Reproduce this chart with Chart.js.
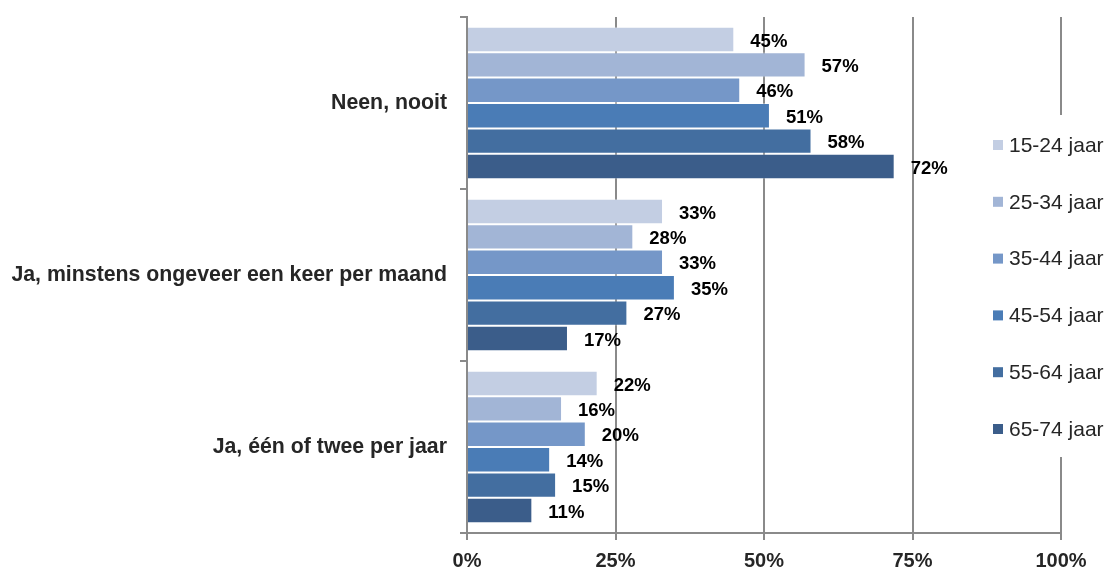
<!DOCTYPE html>
<html>
<head>
<meta charset="utf-8">
<script src="https://cdn.jsdelivr.net/npm/chart.js@4"></script>
<style>
  html, body { margin: 0; padding: 0; background: #fff; }
  #wrap { width: 1107px; height: 569px; position: relative; }
</style>
</head>
<body>
<div id="wrap"><canvas id="ageChart"></canvas></div>
<script>
/* ─── DATA ─────────────────────────────────────────── */
const categories = ['Neen, nooit', 'Ja, minstens ongeveer een keer per maand', 'Ja, één of twee per jaar'];
const ageGroups  = ['15-24 jaar', '25-34 jaar', '35-44 jaar', '45-54 jaar', '55-64 jaar', '65-74 jaar'];

const age15_24 = [45, 33, 22];
const age25_34 = [57, 28, 16];
const age35_44 = [46, 33, 20];
const age45_54 = [51, 35, 14];
const age55_64 = [58, 27, 15];
const age65_74 = [72, 17, 11];

const xTickLabels = ['0%', '25%', '50%', '75%', '100%'];

/* ─── STYLE ────────────────────────────────────────── */
const seriesColors = ['#c3cee3', '#a2b5d6', '#7597c8', '#4a7cb6', '#436ea0', '#3b5d8a'];
const gridGray = '#8a8a8a';
const fontFam  = "'Liberation Sans', Arial, sans-serif";

Chart.defaults.font.family = fontFam;
Chart.defaults.color = '#262626';

const seriesValues = [age15_24, age25_34, age35_44, age45_54, age55_64, age65_74];

/* value labels just past each bar end */
const valueLabels = {
  id: 'valueLabels',
  afterDatasetsDraw(chart) {
    const ctx = chart.ctx;
    ctx.save();
    ctx.font = 'bold 18.5px ' + fontFam;
    ctx.fillStyle = '#000';
    ctx.textAlign = 'left';
    ctx.textBaseline = 'middle';
    chart.data.datasets.forEach((ds, i) => {
      chart.getDatasetMeta(i).data.forEach((bar, j) => {
        ctx.fillText(ds.data[j] + '%', bar.x + 16, bar.y + 2);
      });
    });
    ctx.restore();
  }
};

/* legend sits on top of the plot area with a white backing */
const sideLegend = {
  id: 'sideLegend',
  afterDraw(chart) {
    const ctx = chart.ctx;
    ctx.save();
    ctx.fillStyle = '#fff';
    ctx.fillRect(985, 115, 122, 342);
    ctx.font = '21px ' + fontFam;
    ctx.textBaseline = 'middle';
    ctx.textAlign = 'left';
    chart.data.datasets.forEach((ds, i) => {
      const y = 145 + i * 56.8;
      ctx.fillStyle = ds.backgroundColor;
      ctx.fillRect(993, y - 5, 10, 10);
      ctx.fillStyle = '#262626';
      ctx.fillText(ds.label, 1009, y + 1);
    });
    ctx.restore();
  }
};

new Chart(document.getElementById('ageChart'), {
  type: 'bar',
  data: {
    labels: categories,
    datasets: ageGroups.map((g, i) => ({
      label: g,
      data: seriesValues[i],
      backgroundColor: seriesColors[i],
      borderColor: 'rgba(255,255,255,0.35)',
      borderWidth: 1,
      categoryPercentage: 0.887,
      barPercentage: 1
    }))
  },
  options: {
    indexAxis: 'y',
    responsive: true,
    maintainAspectRatio: false,
    animation: false,
    layout: { padding: { top: 17, right: 46, bottom: 0, left: 0 } },
    plugins: {
      legend: { display: false },
      tooltip: { enabled: false }
    },
    scales: {
      x: {
        min: 0,
        max: 100,
        ticks: {
          stepSize: 25,
          padding: 9,
          color: '#262626',
          font: { size: 20, weight: 'bold' },
          callback: (v, i) => xTickLabels[i]
        },
        grid: { color: gridGray, lineWidth: 2, tickLength: 7 },
        border: { color: gridGray, width: 2 },
        afterFit: (s) => { s.height = 36; }
      },
      y: {
        ticks: {
          padding: 13,
          color: '#262626',
          font: { size: 21.3, weight: 'bold' }
        },
        grid: { offset: true, drawOnChartArea: false, color: gridGray, lineWidth: 2, tickLength: 7 },
        border: { color: gridGray, width: 2 },
        afterFit: (s) => {
          s.width = 467;
          s.paddingTop = 0;
          s.paddingBottom = 0;
        }
      }
    }
  },
  plugins: [valueLabels, sideLegend]
});
</script>
</body>
</html>
